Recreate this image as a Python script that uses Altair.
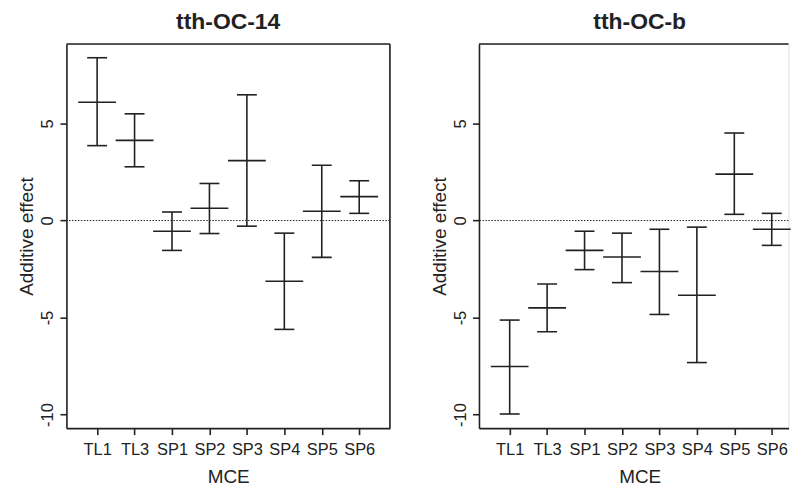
import altair as alt
import pandas as pd

categories = ["TL1", "TL3", "SP1", "SP2", "SP3", "SP4", "SP5", "SP6"]

oc14_mean = [6.10, 4.13, -0.55, 0.63, 3.09, -3.13, 0.48, 1.23]
oc14_low = [3.86, 2.77, -1.54, -0.67, -0.29, -5.61, -1.90, 0.37]
oc14_high = [8.39, 5.50, 0.44, 1.91, 6.48, -0.65, 2.85, 2.05]

ocb_mean = [-7.52, -4.50, -1.54, -1.88, -2.63, -3.85, 2.39, -0.45]
ocb_low = [-9.97, -5.73, -2.53, -3.20, -4.84, -7.32, 0.32, -1.28]
ocb_high = [-5.13, -3.27, -0.55, -0.65, -0.45, -0.34, 4.51, 0.37]

y_ticks = [-10, -5, 0, 5]

INK = "#222222"
FONT = "Liberation Sans"
Y_DOM = [-10.7, 9.1]
X_MIN = 0.18
X_MAX_LEFT = 8.82
X_MAX_RIGHT = 8.448
H = 386
W_LEFT = 325
W_RIGHT = 311

label_expr = "[" + ",".join("'%s'" % c for c in categories) + "][datum.value - 1]"


def panel(title, means, lows, highs, xmax, width, right_edge, title_dx):
    df = pd.DataFrame({
        "pos": list(range(1, len(categories) + 1)),
        "MCE": categories,
        "mean": means,
        "low": lows,
        "high": highs,
    })
    xs = alt.Scale(domain=[X_MIN, xmax], nice=False, zero=False)
    ys = alt.Scale(domain=Y_DOM, nice=False, zero=False)
    xaxis = alt.Axis(
        values=list(range(1, len(categories) + 1)), labelExpr=label_expr,
        title="MCE", grid=False, tickSize=6.5, labelPadding=7,
        titleX=width / 2 + title_dx, titleY=55, titleAlign="center", titleBaseline="alphabetic",
        labelFontSize=16.5, titleFontSize=19, labelFlush=False, labelOverlap=False,
        domainWidth=1.6, tickWidth=1.6, domainColor=INK, tickColor=INK,
        labelColor=INK, titleColor=INK, titleFontWeight="normal",
        labelFont=FONT, titleFont=FONT,
    )
    yaxis = alt.Axis(
        values=y_ticks, labelExpr="'' + datum.value", title="Additive effect",
        grid=False, tickSize=6.5, labelPadding=7.5,
        labelAngle=270, labelAlign="center", labelBaseline="alphabetic",
        titleX=-34, titleY=H / 2, titleAngle=270, titleAlign="center",
        titleBaseline="alphabetic",
        labelFontSize=16.5, titleFontSize=19, labelFlush=False, labelOverlap=False,
        domainWidth=1.6, tickWidth=1.6, domainColor=INK, tickColor=INK,
        labelColor=INK, titleColor=INK, titleFontWeight="normal",
        labelFont=FONT, titleFont=FONT,
    )
    base = alt.Chart(df)
    x_enc = alt.X("pos:Q", scale=xs, axis=xaxis)

    bars = base.mark_rule(color=INK, strokeWidth=1.6).encode(
        x=x_enc,
        y=alt.Y("low:Q", scale=ys, axis=yaxis),
        y2="high:Q",
    )
    caps_lo = base.mark_tick(orient="horizontal", size=20, thickness=1.6, color=INK, opacity=1).encode(
        x=x_enc, y=alt.Y("low:Q", scale=ys, axis=yaxis))
    caps_hi = base.mark_tick(orient="horizontal", size=20, thickness=1.6, color=INK, opacity=1).encode(
        x=x_enc, y=alt.Y("high:Q", scale=ys, axis=yaxis))
    mids = base.mark_tick(orient="horizontal", size=38, thickness=1.6, color=INK, opacity=1).encode(
        x=x_enc, y=alt.Y("mean:Q", scale=ys, axis=yaxis))

    zero = alt.Chart(pd.DataFrame({"z": [0]})).mark_rule(
        color=INK, strokeWidth=1, strokeDash=[1.5, 1.5]
    ).encode(y=alt.Y("z:Q", scale=ys, axis=yaxis))
    top = alt.Chart(pd.DataFrame({"t": [Y_DOM[1]]})).mark_rule(
        color=INK, strokeWidth=1.6
    ).encode(y=alt.Y("t:Q", scale=ys, axis=yaxis))

    layers = [zero, top, bars, caps_lo, caps_hi, mids]
    if right_edge:
        rgt = alt.Chart(pd.DataFrame({"r": [xmax]})).mark_rule(
            color=INK, strokeWidth=1.6
        ).encode(x=alt.X("r:Q", scale=xs, axis=xaxis))
        layers.append(rgt)

    return alt.layer(*layers).properties(
        width=width, height=H,
        title=alt.TitleParams(
            text=title, fontSize=23, fontWeight="bold", font=FONT, color=INK,
            anchor="middle", baseline="alphabetic", offset=-9, dx=title_dx,
        ),
    )


left = panel("tth-OC-14", oc14_mean, oc14_low, oc14_high, X_MAX_LEFT, W_LEFT, True, 0)
right = panel("tth-OC-b", ocb_mean, ocb_low, ocb_high, X_MAX_RIGHT, W_RIGHT, False, 6)

chart = alt.hconcat(left, right, spacing=37.5).properties(
    padding={"left": 8.7, "top": 1, "right": 0, "bottom": 0},
    background="white",
).configure_view(stroke=None).configure(font=FONT)

chart.save("out.html", embed_options={"renderer": "svg", "actions": False})
